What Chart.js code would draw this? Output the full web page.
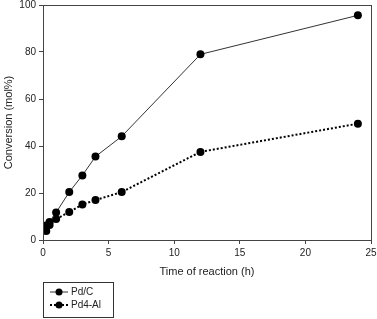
<!DOCTYPE html>
<html lang="en">
<head>
    <meta charset="UTF-8">
    <title>Conversion vs time</title>
    <script src="https://cdn.jsdelivr.net/npm/chart.js"></script>
    <style>
        html, body { margin: 0; padding: 0; background: #fff; }
        #wrap { width: 377px; height: 319px; }
    </style>
</head>
<body>
<div id="wrap"><canvas id="chart" width="377" height="319"></canvas></div>
<script>
    // values
    const timeH = [0.25, 0.5, 1, 2, 3, 4, 6, 12, 24];
    const pdC = [6.2, 7.7, 11.7, 20.4, 27.5, 35.5, 44.1, 79, 95.6];
    const pd4Al = [3.8, 6.4, 8.9, 11.9, 15.1, 17, 20.4, 37.5, 49.5];
    const seriesNames = ['Pd/C', 'Pd4-Al'];
    const xTicks = [0, 5, 10, 15, 20, 25];
    const yTicks = [0, 20, 40, 60, 80, 100];

    const FONT = 'Liberation Sans, Arial, sans-serif';
    const AXIS = '#444';

    const toPts = (ys) => timeH.map((t, i) => ({ x: t, y: ys[i] }));

    // frame round the plot + boxed legend under the axis
    const extras = {
        id: 'extras',
        afterDraw(chart) {
            const { ctx, chartArea: a } = chart;
            ctx.save();
            ctx.strokeStyle = AXIS;
            ctx.lineWidth = 1;
            ctx.strokeRect(a.left + 0.5, a.top + 0.5, a.right - a.left, a.bottom - a.top);

            const bx = 43, by = 282, bw = 70, bh = 35;
            ctx.strokeStyle = '#333';
            ctx.strokeRect(bx + 0.5, by + 0.5, bw, bh);
            const rows = [
                { y: 292, dash: [], w: 1, col: '#333' },
                { y: 305, dash: [2, 2], w: 2, col: '#000' }
            ];
            ctx.font = '10px ' + FONT;
            ctx.textBaseline = 'middle';
            rows.forEach((r, i) => {
                ctx.beginPath();
                ctx.setLineDash(r.dash);
                ctx.lineWidth = r.w;
                ctx.strokeStyle = r.col;
                ctx.moveTo(50, r.y);
                ctx.lineTo(68, r.y);
                ctx.stroke();
                ctx.setLineDash([]);
                ctx.beginPath();
                ctx.fillStyle = '#000';
                ctx.arc(59, r.y, 3.5, 0, Math.PI * 2);
                ctx.fill();
                ctx.fillStyle = '#222';
                ctx.fillText(seriesNames[i], 71, r.y);
            });
            ctx.restore();
        }
    };

    new Chart(document.getElementById('chart'), {
        type: 'scatter',
        data: {
            datasets: [
                {
                    label: seriesNames[0],
                    data: toPts(pdC),
                    showLine: true,
                    borderColor: '#333',
                    borderWidth: 1,
                    pointRadius: 4,
                    pointBackgroundColor: '#000',
                    pointBorderWidth: 0
                },
                {
                    label: seriesNames[1],
                    data: toPts(pd4Al),
                    showLine: true,
                    borderColor: '#000',
                    borderWidth: 2,
                    borderDash: [2, 2],
                    pointRadius: 4,
                    pointBackgroundColor: '#000',
                    pointBorderWidth: 0
                }
            ]
        },
        options: {
            responsive: false,
            animation: false,
            layout: { padding: { top: 5, right: 6, left: 0, bottom: 0 } },
            plugins: { legend: { display: false }, tooltip: { enabled: false } },
            scales: {
                x: {
                    type: 'linear',
                    min: 0, max: 25,
                    afterBuildTicks: (s) => { s.ticks = xTicks.map(v => ({ value: v })); },
                    afterFit: (s) => { s.height = 79; s.paddingLeft = 0; s.paddingRight = 0; },
                    grid: { drawOnChartArea: false, tickLength: 4, color: AXIS },
                    border: { color: AXIS },
                    ticks: { color: '#222', font: { family: FONT, size: 10 }, padding: 3, maxRotation: 0 },
                    title: {
                        display: true, text: 'Time of reaction (h)', color: '#222',
                        font: { family: FONT, size: 11 }, padding: { top: 0, bottom: 40 }
                    }
                },
                y: {
                    min: 0, max: 100,
                    afterBuildTicks: (s) => { s.ticks = yTicks.map(v => ({ value: v })); },
                    afterFit: (s) => { s.width = 43; s.paddingTop = 0; s.paddingBottom = 0; },
                    grid: { drawOnChartArea: false, tickLength: 4, color: AXIS },
                    border: { color: AXIS },
                    ticks: { color: '#222', font: { family: FONT, size: 10 }, padding: 3 },
                    title: {
                        display: true, text: 'Conversion (mol%)', color: '#222',
                        font: { family: FONT, size: 11 }, padding: { top: 2, bottom: 0 }
                    }
                }
            }
        },
        plugins: [extras]
    });
</script>
</body>
</html>
